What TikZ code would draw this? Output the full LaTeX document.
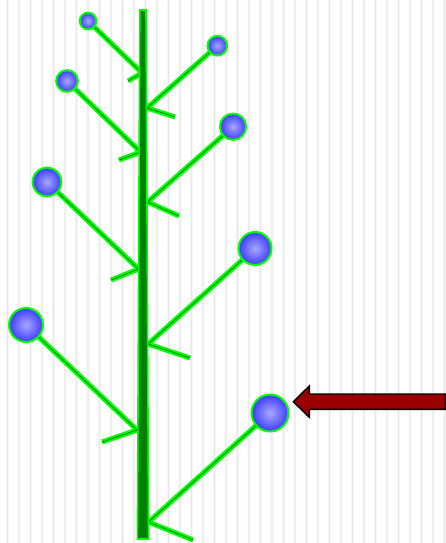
\documentclass[tikz,border=0pt]{standalone}
\definecolor{brgreen}{HTML}{00FF00}
\definecolor{dkgreen}{HTML}{008000}
\definecolor{ballin}{HTML}{A8A8FF}
\definecolor{ballout}{HTML}{3C3CFF}
\definecolor{arrowred}{HTML}{990000}
\tikzset{
  branch/.style={draw=brgreen, line width=5pt, miter limit=20},
  branchcore/.style={draw=dkgreen, line width=0.8pt, miter limit=20},
  ball/.style={circle, draw=brgreen, line width=2pt, inner color=ballin, outer color=ballout, inner sep=0pt},
  stripe/.style={left color=white, right color=white, middle color=black!9},
}
\begin{document}
\begin{tikzpicture}[x=1pt,y=-1pt]
\useasboundingbox (0,0) rectangle (446,543);
\fill[white] (0,0) rectangle (446,543);
\foreach \k in {0,...,38} {
  \shade[stripe] ({5.2+11.5*\k},0) rectangle ({8.8+11.5*\k},543);
}
% ball centres
\coordinate (cL1) at (88,21);
\coordinate (cL2) at (67,81);
\coordinate (cL3) at (47,182);
\coordinate (cL4) at (26,325);
\coordinate (cR1) at (217.3,45.7);
\coordinate (cR2) at (233,126.7);
\coordinate (cR3) at (255,248.5);
\coordinate (cR4) at (270,413);
% tips on the stem
\coordinate (tL1) at (142,73);
\coordinate (tL2) at (140.5,152);
\coordinate (tL3) at (138.5,269);
\coordinate (tL4) at (137,430);
\coordinate (tR1) at (147,108);
\coordinate (tR2) at (147.5,202);
\coordinate (tR3) at (148,344);
\coordinate (tR4) at (148.5,522);
% barb ends
\coordinate (bL1) at (128,81);
\coordinate (bL2) at (119,160);
\coordinate (bL3) at (111,280);
\coordinate (bL4) at (102,442);
\coordinate (bR1) at (175,117);
\coordinate (bR2) at (179,216);
\coordinate (bR3) at (190,358);
\coordinate (bR4) at (193,540);
\foreach \n in {L1,L2,L3,L4,R1,R2,R3,R4} {
  \draw[branch] (c\n) -- (t\n) -- (b\n);
  \draw[branchcore] (c\n) -- (t\n) -- (b\n);
}
% stem
\filldraw[fill=dkgreen, draw=brgreen, line width=1.6pt] (139.8,10) -- (146,10) -- (148.6,539) -- (137.4,539) -- cycle;
% balls
\node[ball, minimum size=16.7pt] (L1) at (cL1) {};
\node[ball, minimum size=21.7pt] (L2) at (cL2) {};
\node[ball, minimum size=28.7pt] (L3) at (cL3) {};
\node[ball, minimum size=34pt] (L4) at (cL4) {};
\node[ball, minimum size=19.7pt] (R1) at (cR1) {};
\node[ball, minimum size=26.3pt] (R2) at (cR2) {};
\node[ball, minimum size=33pt] (R3) at (cR3) {};
\node[ball, minimum size=37pt] (R4) at (cR4) {};
% arrow
\filldraw[fill=arrowred, draw=black, line width=1.4pt, line join=miter]
  (293.3,401.7) -- (309.3,386) -- (309.3,394) -- (445.3,394) -- (445.3,409.3)
  -- (309.3,409.3) -- (309.3,417.3) -- cycle;
\end{tikzpicture}
\end{document}
